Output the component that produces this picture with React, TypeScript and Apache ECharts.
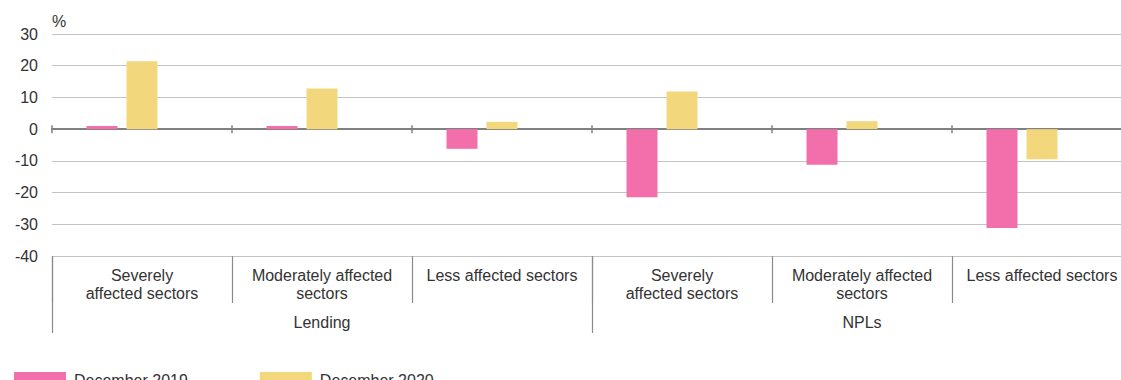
import React, { useEffect, useRef } from "react";
import * as echarts from "echarts";

const sectorLabels = [
  "Severely\naffected sectors",
  "Moderately affected\nsectors",
  "Less affected sectors",
  "Severely\naffected sectors",
  "Moderately affected\nsectors",
  "Less affected sectors",
];
const groupLabels = ["Lending", "NPLs"];
const seriesNames = ["December 2019", "December 2020"];
const dec2019 = [1.0, 1.0, -6.2, -21.5, -11.2, -31.2];
const dec2020 = [21.4, 12.8, 2.3, 11.9, 2.5, -9.5];
const yTicks = { min: -40, max: 30, interval: 10 };

const FONT = 'Arial, "Liberation Sans", sans-serif';
const TEXT = "#333333";
const PINK = "#f26fab";
const YELLOW = "#f2d77c";

export default function App() {
  const ref = useRef<HTMLDivElement>(null);
  useEffect(() => {
    if (!ref.current) return;
    const chart = echarts.init(ref.current, undefined, { renderer: "svg" });
    const baseAxis = {
      type: "category",
      data: sectorLabels,
      gridIndex: 0,
    };
    chart.setOption({
      animation: false,
      textStyle: { fontFamily: FONT },
      grid: { left: 52, right: 0, top: 34, bottom: 124, containLabel: false },
      legend: {
        data: seriesNames,
        left: 14,
        top: 372,
        padding: 0,
        itemWidth: 52,
        itemHeight: 16,
        itemGap: 72,
        icon: "rect",
        textStyle: { fontSize: 16, color: TEXT, fontFamily: FONT, padding: [0, 0, 10, 3] },
      },
      xAxis: [
        {
          ...baseAxis,
          position: "bottom",
          axisLine: { show: true, onZero: true, onZeroAxisIndex: 0, lineStyle: { color: "#808080", width: 2 } },
          axisTick: { show: true, interval: 0, length: 4, lineStyle: { color: "#808080", width: 1.5 } },
          axisLabel: { show: false },
          splitLine: { show: false },
        },
        {
          ...baseAxis,
          position: "top",
          axisLine: { show: true, onZero: true, onZeroAxisIndex: 1, lineStyle: { color: "#808080", width: 2 } },
          axisTick: { show: true, interval: 0, length: 4, lineStyle: { color: "#808080", width: 1.5 } },
          axisLabel: { show: false },
          splitLine: { show: false },
        },
        {
          ...baseAxis,
          position: "bottom",
          axisLine: { show: false, onZero: false },
          axisTick: { show: true, interval: 0, length: 47, lineStyle: { color: "#8a8a8a", width: 1.2 } },
          axisLabel: {
            show: true,
            interval: 0,
            margin: 10,
            fontSize: 16,
            lineHeight: 18,
            color: TEXT,
            fontFamily: FONT,
            align: "center",
          },
          splitLine: { show: false },
        },
        {
          type: "category",
          data: groupLabels,
          gridIndex: 0,
          position: "bottom",
          axisLine: { show: false, onZero: false },
          axisTick: { show: true, interval: 0, length: 77, lineStyle: { color: "#8a8a8a", width: 1.2 } },
          axisLabel: {
            show: true,
            interval: 0,
            margin: 58,
            fontSize: 16,
            color: TEXT,
            fontFamily: FONT,
          },
          splitLine: { show: false },
        },
      ],
      yAxis: [
        {
          type: "value",
          min: yTicks.min,
          max: yTicks.max,
          interval: yTicks.interval,
          position: "left",
          name: "%",
          nameLocation: "end",
          nameGap: 13,
          nameTextStyle: { align: "left", verticalAlign: "middle", fontSize: 16, color: TEXT, fontFamily: FONT },
          axisLine: { show: false },
          axisTick: { show: false },
          axisLabel: { fontSize: 16, color: TEXT, margin: 14, fontFamily: FONT },
          splitLine: { show: true, lineStyle: { color: "#c4c4c4", width: 1 } },
        },
        {
          type: "value",
          min: yTicks.min,
          max: yTicks.max,
          interval: yTicks.interval,
          position: "right",
          show: false,
          axisLine: { show: false },
          axisTick: { show: false },
          axisLabel: { show: false },
          splitLine: { show: false },
        },
      ],
      series: [
        {
          name: seriesNames[0],
          type: "bar",
          xAxisIndex: 0,
          yAxisIndex: 0,
          data: dec2019,
          barWidth: 31,
          barGap: "29%",
          itemStyle: { color: PINK },
        },
        {
          name: seriesNames[1],
          type: "bar",
          xAxisIndex: 0,
          yAxisIndex: 0,
          data: dec2020,
          barWidth: 31,
          barGap: "29%",
          itemStyle: { color: YELLOW },
        },
        {
          name: "spacer",
          type: "bar",
          xAxisIndex: 0,
          yAxisIndex: 0,
          data: [],
          barWidth: 31,
          barGap: "29%",
          itemStyle: { color: "transparent" },
        },
      ],
    });
    return () => chart.dispose();
  }, []);
  return (
    <div
      style={{ position: "fixed", left: 0, top: 0, width: 1121, height: 380, overflow: "hidden", background: "#fff" }}
    >
      <div ref={ref} style={{ width: 1132, height: 380 }} />
    </div>
  );
}
